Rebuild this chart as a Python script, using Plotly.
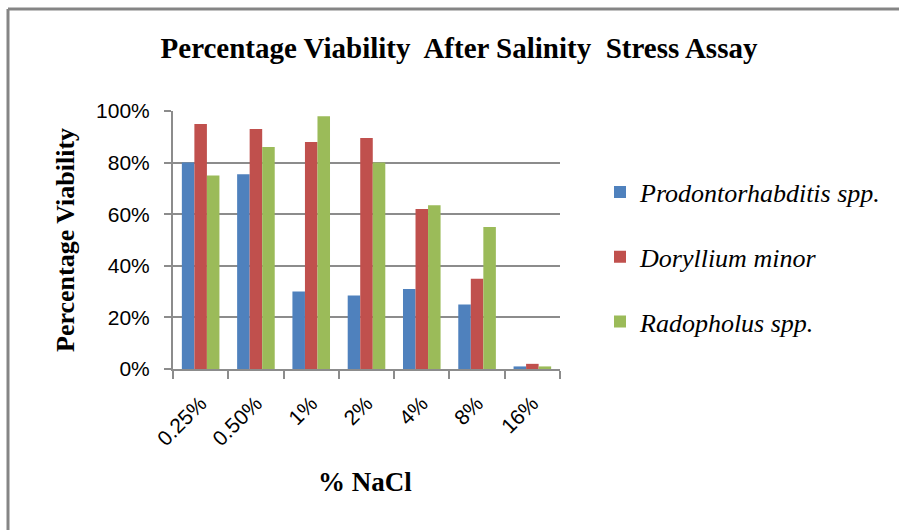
import plotly.graph_objects as go

# ── data ─────────────────────────────────────────────
NACL = ["0.25%", "0.50%", "1%", "2%", "4%", "8%", "16%"]
PRODONTORHABDITIS = [0.80, 0.755, 0.30, 0.285, 0.31, 0.25, 0.01]
DORYLLIUM = [0.95, 0.93, 0.88, 0.895, 0.62, 0.35, 0.02]
RADOPHOLUS = [0.75, 0.86, 0.98, 0.80, 0.635, 0.55, 0.01]

SERIES = [
    ("Prodontorhabditis spp.", PRODONTORHABDITIS, "#4F81BD"),
    ("Doryllium minor", DORYLLIUM, "#C0504D"),
    ("Radopholus spp.", RADOPHOLUS, "#9BBB59"),
]

GRID = "#8c8c8c"
FRAME = "#858585"
SERIF = "Liberation Serif, Times New Roman, serif"
SANS = "Liberation Sans, Arial, sans-serif"

# plot area in pixels (front face of the Excel 3D chart)
L, R, T, B = 173, 560, 111, 369
PW, PH = R - L, B - T


def px_x(x):
    return (x - L) / PW


def px_y(y):
    return (B - y) / PH


fig = go.Figure()
for name, vals, color in SERIES:
    fig.add_trace(go.Bar(
        x=NACL, y=vals, name=name,
        marker=dict(color=color, line=dict(width=0)),
        legendgroup=name,
    ))

fig.update_layout(
    width=899, height=530,
    paper_bgcolor="white", plot_bgcolor="white",
    barmode="group", bargap=0.32, bargroupgap=0,
    margin=dict(l=L, r=899 - R, t=T, b=530 - B),
    title=dict(
        text="Percentage Viability&nbsp; After Salinity&nbsp; Stress Assay",
        x=459 / 899, xanchor="center", y=1 - 48 / 530, yanchor="middle",
        font=dict(family=SERIF, size=29, color="black", weight="bold"),
    ),
    legend=dict(
        x=px_x(600), xanchor="left", y=px_y(257), yanchor="middle",
        font=dict(family=SERIF, size=26, color="black", style="italic"),
        tracegroupgap=28,
    ),
    xaxis=dict(
        range=[-0.5, 6.5],
        tickangle=-45, tickfont=dict(family=SANS, size=21, color="black"),
        ticks="outside", tickson="boundaries", ticklen=8, tickcolor=GRID, tickwidth=2,
        ticklabelstandoff=12,
        showline=True, linecolor=GRID, linewidth=2,
        showgrid=False,
    ),
    yaxis=dict(
        range=[0, 1.0], dtick=0.2, tickformat=".0%",
        tickfont=dict(family=SANS, size=21, color="black"),
        ticks="outside", ticklen=7, tickcolor=GRID, tickwidth=2,
        ticklabelstandoff=10,
        showline=True, linecolor=GRID, linewidth=2,
        gridcolor=GRID, gridwidth=2, zeroline=False,
    ),
    annotations=[
        dict(text="<b>Percentage Viability</b>", textangle=-90,
             xref="paper", yref="paper", x=px_x(65), y=px_y(240),
             xanchor="center", yanchor="middle",
             showarrow=False, font=dict(family=SERIF, size=26, color="black")),
        dict(text="<b>% NaCl</b>",
             xref="paper", yref="paper", x=px_x(365), y=px_y(482),
             xanchor="center", yanchor="middle",
             showarrow=False, font=dict(family=SERIF, size=27, color="black")),
    ],
    # chart frame: only its top and left edges fall inside the picture
    shapes=[
        dict(type="line", xref="paper", yref="paper",
             x0=px_x(8), x1=px_x(899), y0=px_y(9), y1=px_y(9),
             line=dict(color=FRAME, width=3), layer="below"),
        dict(type="line", xref="paper", yref="paper",
             x0=px_x(8), x1=px_x(8), y0=px_y(9), y1=px_y(530),
             line=dict(color=FRAME, width=3), layer="below"),
    ],
)

fig.write_html(
    "out.html",
    config={"displayModeBar": False},
    post_script="document.body.style.margin='0px';",
)
